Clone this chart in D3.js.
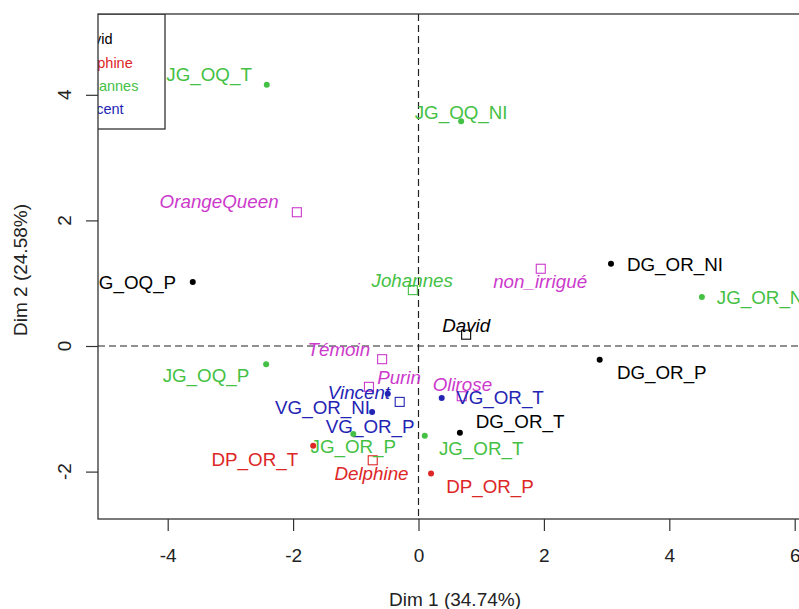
<!DOCTYPE html>
<meta charset="utf-8">
<script src="https://d3js.org/d3.v7.min.js"></script>
<style>
  body { margin: 0; background: #fff; }
  text { font-family: "Liberation Sans", Arial, sans-serif; }
</style>
<body>
<script>
// Individuals (dots)
var indNames = ["DG_OQ_P", "DG_OR_NI", "DG_OR_P", "DG_OR_T",
                "JG_OQ_T", "JG_OQ_NI", "JG_OQ_P", "JG_OR_NI", "JG_OR_P", "JG_OR_T",
                "VG_OR_NI", "VG_OR_P", "VG_OR_T",
                "DP_OR_T", "DP_OR_P"];
var indGroup = ["David", "David", "David", "David",
                "Johannes", "Johannes", "Johannes", "Johannes", "Johannes", "Johannes",
                "Vincent", "Vincent", "Vincent",
                "Delphine", "Delphine"];
var indDim1 = [-3.60, 3.07, 2.89, 0.66, -2.42, 0.68, -2.43, 4.52, -1.04, 0.10, -0.49, -0.74, 0.37, -1.68, 0.20];
var indDim2 = [1.02, 1.31, -0.22, -1.38, 4.16, 3.58, -0.29, 0.78, -1.40, -1.43, -0.76, -1.05, -0.83, -1.59, -2.03];
// where the labels sit (data units)
var indLabX = [-4.59, 4.09, 3.88, 1.62, -3.34, 0.68, -3.39, 5.49, -1.04, 1.00, -1.53, -0.77, 1.30, -2.61, 1.14];
var indLabY = [1.02, 1.30, -0.41, -1.19, 4.33, 3.73, -0.46, 0.78, -1.60, -1.62, -0.98, -1.27, -0.82, -1.80, -2.23];

// Supplementary categories (squares)
var catNames = ["OrangeQueen", "Johannes", "non_irrigué", "David", "Témoin", "Purin", "Olirose", "Vincent", "Delphine"];
var catGroup = ["other", "Johannes", "other", "David", "other", "other", "other", "Vincent", "Delphine"];
var catDim1 = [-1.94, -0.09, 1.95, 0.76, -0.58, -0.79, 0.69, -0.30, -0.73];
var catDim2 = [2.13, 0.89, 1.23, 0.18, -0.21, -0.65, -0.80, -0.89, -1.82];
var catLabX = [-3.18, -0.10, 1.94, 0.76, -1.27, -0.31, 0.70, -0.95, -0.75];
var catLabY = [2.31, 1.05, 1.03, 0.33, -0.05, -0.50, -0.61, -0.73, -2.02];

var legendLabels = ["David", "Delphine", "Johannes", "Vincent"];
var xTicks = [-4, -2, 0, 2, 4, 6];
var yTicks = [-2, 0, 2, 4];

var colors = {
  "David": "#000000",
  "Delphine": "#dd2626",
  "Johannes": "#44c144",
  "Vincent": "#2424b4",
  "other": "#cc3acc"
};

var W = 799, H = 609;
var box = {left: 98, top: 14, bottom: 519, right: 820};

var svg = d3.select("body").append("svg")
  .attr("width", W).attr("height", H);

// asp = 1 : same pixels per unit on both axes
var x = d3.scaleLinear().domain([-4, 6]).range([167.7, 794.7]);
var y = d3.scaleLinear().domain([-2, 4]).range([471.6, 94.8]);

svg.append("clipPath").attr("id", "plotclip")
  .append("rect")
  .attr("x", box.left).attr("y", box.top)
  .attr("width", box.right - box.left).attr("height", box.bottom - box.top);

// axes
var xAxis = svg.append("g")
  .attr("transform", "translate(0," + box.bottom + ")")
  .call(d3.axisBottom(x).tickValues(xTicks).tickSize(12).tickPadding(18).tickFormat(d3.format("d")));
xAxis.select(".domain").remove();
xAxis.selectAll("line").attr("stroke", "#333").attr("stroke-width", 1.2);
xAxis.selectAll("text").attr("font-size", 19).attr("fill", "#222")
  .style("font-family", "'Liberation Sans', Arial, sans-serif")
  .text(function(d) { return d < 0 ? "-" + Math.abs(d) : d; });

var yAxis = svg.append("g")
  .attr("transform", "translate(" + box.left + ",0)")
  .call(d3.axisLeft(y).tickValues(yTicks).tickSize(12).tickFormat(""));
yAxis.select(".domain").remove();
yAxis.selectAll("line").attr("stroke", "#333").attr("stroke-width", 1.2);

svg.selectAll(".ytick-label")
  .data(yTicks)
  .enter()
  .append("text")
  .attr("class", "ytick-label")
  .attr("transform", function(d) { return "translate(64," + y(d) + ") rotate(-90)"; })
  .attr("text-anchor", "middle")
  .attr("dy", "0.36em")
  .attr("font-size", 19)
  .attr("fill", "#222")
  .text(function(d) { return d < 0 ? "-" + Math.abs(d) : d; });

// axis titles
svg.append("text")
  .attr("x", (box.left + box.right) / 2 - 4)
  .attr("y", 599)
  .attr("dy", "0.36em")
  .attr("text-anchor", "middle")
  .attr("font-size", 19)
  .attr("fill", "#222")
  .text("Dim 1 (34.74%)");

svg.append("text")
  .attr("transform", "translate(20,270) rotate(-90)")
  .attr("dy", "0.36em")
  .attr("text-anchor", "middle")
  .attr("font-size", 19)
  .attr("fill", "#222")
  .text("Dim 2 (24.58%)");

var plot = svg.append("g").attr("clip-path", "url(#plotclip)");

// dashed zero lines
plot.append("line")
  .attr("x1", x(0)).attr("x2", x(0))
  .attr("y1", box.top).attr("y2", box.bottom)
  .attr("stroke", "#222").attr("stroke-width", 1.2).attr("stroke-dasharray", "7,4");
plot.append("line")
  .attr("x1", box.left).attr("x2", box.right)
  .attr("y1", y(0)).attr("y2", y(0))
  .attr("stroke", "#222").attr("stroke-width", 1.2).attr("stroke-dasharray", "7,4");

var inds = indNames.map(function(n, i) {
  return {name: n, group: indGroup[i], x: indDim1[i], y: indDim2[i], lx: indLabX[i], ly: indLabY[i]};
});
var cats = catNames.map(function(n, i) {
  return {name: n, group: catGroup[i], x: catDim1[i], y: catDim2[i], lx: catLabX[i], ly: catLabY[i]};
});

// category squares
plot.selectAll(".cat")
  .data(cats)
  .enter()
  .append("rect")
  .attr("class", "cat")
  .attr("x", function(d) { return x(d.x) - 4.5; })
  .attr("y", function(d) { return y(d.y) - 4.5; })
  .attr("width", 9).attr("height", 9)
  .attr("fill", "none")
  .attr("stroke", function(d) { return colors[d.group]; })
  .attr("stroke-width", 1.1);

plot.selectAll(".cat-label")
  .data(cats)
  .enter()
  .append("text")
  .attr("class", "cat-label")
  .attr("x", function(d) { return x(d.lx); })
  .attr("y", function(d) { return y(d.ly); })
  .attr("dy", "0.36em")
  .attr("text-anchor", "middle")
  .attr("font-size", 18.8)
  .attr("font-style", "italic")
  .attr("fill", function(d) { return colors[d.group]; })
  .text(function(d) { return d.name; });

// individuals
plot.selectAll(".ind-label")
  .data(inds)
  .enter()
  .append("text")
  .attr("class", "ind-label")
  .attr("x", function(d) { return x(d.lx); })
  .attr("y", function(d) { return y(d.ly); })
  .attr("dy", "0.36em")
  .attr("text-anchor", "middle")
  .attr("font-size", 18.8)
  .attr("fill", function(d) { return colors[d.group]; })
  .text(function(d) { return d.name; });

plot.selectAll(".ind")
  .data(inds)
  .enter()
  .append("circle")
  .attr("class", "ind")
  .attr("cx", function(d) { return x(d.x); })
  .attr("cy", function(d) { return y(d.y); })
  .attr("r", 3)
  .attr("fill", function(d) { return colors[d.group]; });

// plot frame
svg.append("rect")
  .attr("x", box.left).attr("y", box.top)
  .attr("width", box.right - box.left).attr("height", box.bottom - box.top)
  .attr("fill", "none").attr("stroke", "#333").attr("stroke-width", 1.3);

// legend (its left part falls outside the frame and is cut off)
var legend = plot.append("g");
legend.append("rect")
  .attr("x", 60).attr("y", box.top)
  .attr("width", 165 - 60).attr("height", 129 - box.top)
  .attr("fill", "#fff").attr("stroke", "#333").attr("stroke-width", 1.3);
legend.selectAll("text")
  .data(legendLabels)
  .enter()
  .append("text")
  .attr("x", 75.5)
  .attr("y", function(d, i) { return 39 + i * 23.4; })
  .attr("dy", "0.36em")
  .attr("font-size", 14.5)
  .attr("fill", function(d) { return colors[d]; })
  .text(function(d) { return d; });
</script>
</body>
</html>
